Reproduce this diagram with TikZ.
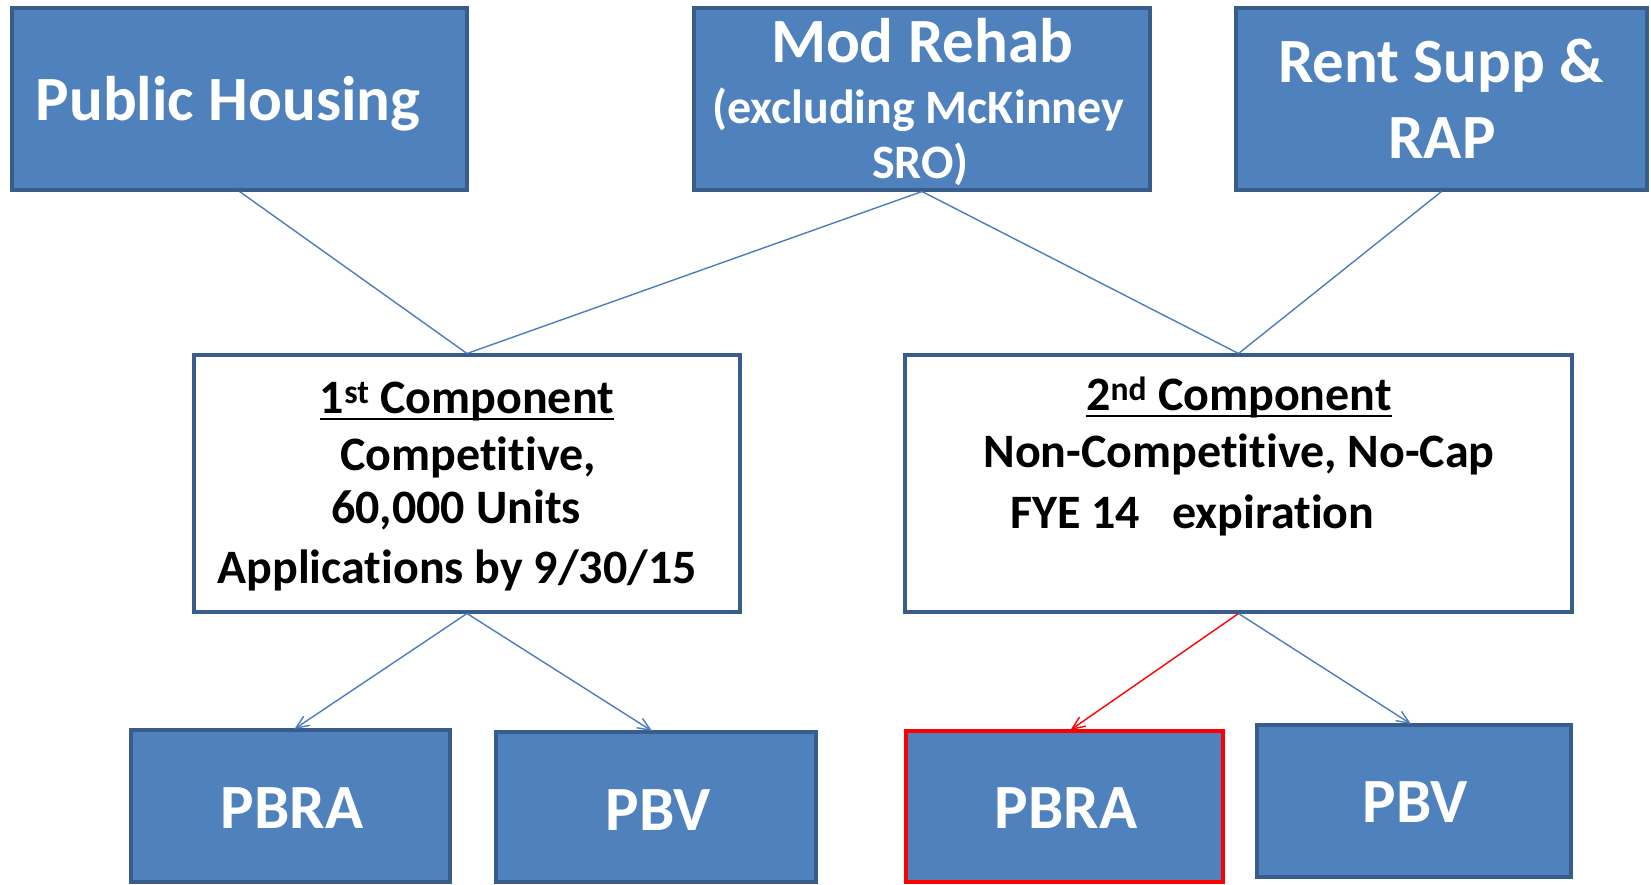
\documentclass[tikz,border=0pt]{standalone}
\usepackage{fontspec}
\setmainfont{Carlito}[Ligatures=NoCommon]
\usetikzlibrary{arrows.meta}
\definecolor{boxfill}{HTML}{4F81BD}
\definecolor{boxline}{HTML}{385D8A}
\definecolor{conn}{HTML}{4A7EBB}
\newcommand\myul[1]{\setbox0\hbox{#1}\rlap{\rule[-7pt]{\wd0}{2.4pt}}\box0}
\tikzset{
  bluebox/.style={draw=boxline, fill=boxfill, line width=3.5pt, inner sep=0, outer sep=0},
  whitebox/.style={draw=boxline, fill=white, line width=3.5pt, inner sep=0, outer sep=0},
  redbox/.style={draw=red, fill=boxfill, line width=3.5pt, inner sep=0, outer sep=0},
  bigtxt/.style={font=\fontsize{63}{70}\selectfont\bfseries, text=white, inner sep=0, anchor=base},
  medtxt/.style={font=\fontsize{48}{56}\selectfont\bfseries, text=white, inner sep=0, anchor=base},
  blacktxt/.style={font=\fontsize{48}{56}\selectfont\bfseries, text=black, inner sep=0, anchor=base},
  conline/.style={draw=conn, line width=1.4pt},
  conarrow/.style={draw=conn, line width=1.4pt, -{Straight Barb[length=13pt,width=11pt,line width=1.4pt]}},
  redarrow/.style={draw=red, line width=1.4pt, -{Straight Barb[length=13pt,width=11pt,line width=1.4pt]}}
}
\begin{document}
\begin{tikzpicture}[x=1pt,y=-1pt]
\useasboundingbox (0,0) rectangle (1651,884);
% top boxes
\node[bluebox, minimum width=455pt, minimum height=182pt] (ph) at (239.5,99) {};
\node[bluebox, minimum width=456pt, minimum height=182pt] (mod) at (922,99) {};
\node[bluebox, minimum width=411pt, minimum height=182pt] (rent) at (1441.5,99) {};
% middle boxes
\node[whitebox, minimum width=546pt, minimum height=257pt] (c1) at (467,483.5) {};
\node[whitebox, minimum width=667pt, minimum height=257pt] (c2) at (1238.5,483.5) {};
% bottom boxes
\node[bluebox, minimum width=319pt, minimum height=152pt] (pbra1) at (290.5,806) {};
\node[bluebox, minimum width=320pt, minimum height=150pt] (pbv1) at (656,807) {};
\node[redbox, minimum width=317pt, minimum height=151pt] (pbra2) at (1064.5,806.5) {};
\node[bluebox, minimum width=314pt, minimum height=152pt] (pbv2) at (1414,801) {};
% texts
\node[bigtxt] (tph) at (228,120) {Public Housing};
\node[bigtxt] (tmod1) at (922,62) {Mod Rehab};
\node[medtxt] (tmod2) at (918,123) {(excluding McKinney};
\node[medtxt] (tmod3) at (920,178) {SRO)};
\node[bigtxt] (trent1) at (1441,82) {Rent Supp \&};
\node[bigtxt] (trent2) at (1442,158) {RAP};
\node[blacktxt] (tc1a) at (467,413) {\myul{1\textsuperscript{st} Component}};
\node[blacktxt] (tc1b) at (468,470) {Competitive,};
\node[blacktxt] (tc1c) at (456,523) {60,000 Units};
\node[blacktxt] (tc1d) at (457,583) {Applications by 9/30/15};
\node[blacktxt] (tc2a) at (1239,410) {\myul{2\textsuperscript{nd} Component}};
\node[blacktxt] (tc2b) at (1239,467) {Non-Competitive, No-Cap};
\node[blacktxt, anchor=base west] (tc2c) at (1010,528) {FYE 14};
\node[blacktxt, anchor=base west] (tc2d) at (1172,528) {expiration};
\node[bigtxt] (tpbra1) at (292,828) {PBRA};
\node[bigtxt] (tpbv1) at (658,830) {PBV};
\node[bigtxt] (tpbra2) at (1066,828) {PBRA};
\node[bigtxt] (tpbv2) at (1415,822) {PBV};
% connectors
\draw[conline] ([yshift=-1.5pt]ph.south) -- ([yshift=1.5pt]c1.north);
\draw[conline] ([yshift=-1.5pt]mod.south) -- ([yshift=1.5pt]c1.north);
\draw[conline] ([yshift=-1.5pt]mod.south) -- ([yshift=1.5pt]c2.north);
\draw[conline] ([yshift=-1.5pt]rent.south) -- ([yshift=1.5pt]c2.north);
\draw[conarrow] ([yshift=-1.5pt]c1.south) -- ([xshift=4pt,yshift=1pt]pbra1.north);
\draw[conarrow] ([yshift=-1.5pt]c1.south) -- ([xshift=-4pt,yshift=1pt]pbv1.north);
\draw[redarrow] ([yshift=-1.5pt]c2.south) -- ([xshift=6pt,yshift=1pt]pbra2.north);
\draw[conarrow] ([yshift=-1.5pt]c2.south) -- ([xshift=-3pt,yshift=1pt]pbv2.north);
\end{tikzpicture}
\end{document}
